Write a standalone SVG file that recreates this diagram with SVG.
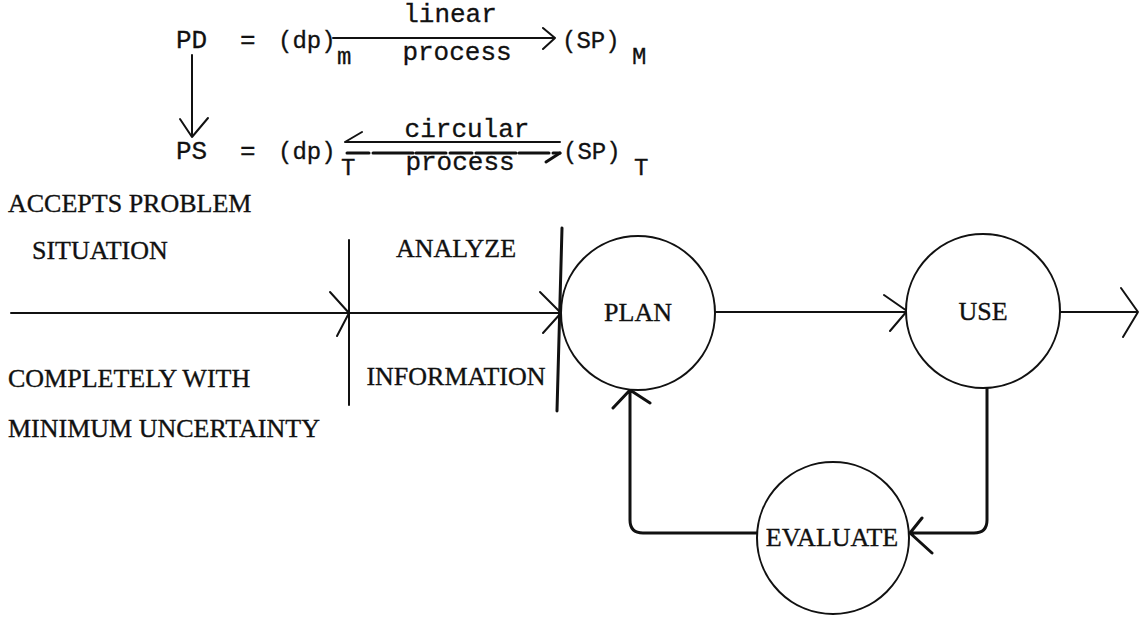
<svg xmlns="http://www.w3.org/2000/svg" width="1139" height="618" viewBox="0 0 1139 618">
<style>
.f{font-family:"Liberation Mono","DejaVu Sans Mono",monospace;fill:#111;stroke:#111;stroke-width:0.3}
.s{font-family:"Liberation Serif","DejaVu Serif",serif;fill:#111;font-size:26px;stroke:#111;stroke-width:0.35}
.ln{stroke:#111;stroke-width:2;fill:none;stroke-linecap:round;stroke-linejoin:round}
.th{stroke:#111;stroke-width:3;fill:none;stroke-linecap:round;stroke-linejoin:round}
.c{stroke:#111;stroke-width:2;fill:#fff}
</style>
<rect width="1139" height="618" fill="#fff"/>
<g id="formula">
  <text class="f" x="176" y="48" font-size="26">PD</text>
  <text class="f" x="240" y="48" font-size="26">=</text>
  <text class="f" x="278" y="48" font-size="24">(dp)</text>
  <text class="f" x="337" y="64" font-size="24">m</text>
  <text class="f" x="450" y="22" font-size="26" text-anchor="middle">linear</text>
  <text class="f" x="457" y="60" font-size="26" text-anchor="middle">process</text>
  <text class="f" x="562" y="48" font-size="24">(SP)</text>
  <text class="f" x="632" y="64" font-size="24">M</text>
  <text class="f" x="176" y="159" font-size="26">PS</text>
  <text class="f" x="240" y="159" font-size="26">=</text>
  <text class="f" x="278" y="159" font-size="24">(dp)</text>
  <text class="f" x="341" y="175" font-size="24">T</text>
  <text class="f" x="467" y="137" font-size="26" text-anchor="middle">circular</text>
  <text class="f" x="460" y="170" font-size="26" text-anchor="middle">process</text>
  <text class="f" x="563" y="159" font-size="24">(SP)</text>
  <text class="f" x="634" y="175" font-size="24">T</text>
</g>
<g id="connectors">
  <path class="ln" d="M333 38H555M543 28L555 38L543 49"/>
  <path class="ln" d="M192 55V137M180 119L192 137L208 118"/>
  <path class="ln" d="M345 142H560M362 132L345 142"/>
  <path class="th" stroke-dasharray="22 4 40 3 30 4" d="M347 153H560"/>
  <path class="th" d="M560 153L546 162"/>
  <path class="ln" d="M11 313H561"/>
  <path class="ln" d="M330 292L349 313L337 336"/>
  <path class="ln" d="M540 292L561 313L543 333"/>
  <path class="ln" d="M349 240V405"/>
  <path class="th" d="M562 228L557 411"/>
  <path class="ln" d="M715 312H907M884 295L907 311L890 331"/>
  <path class="ln" d="M1060 312H1138M1121 288L1138 312L1123 337"/>
  <path class="th" d="M987 388V520Q987 533 974 533H910M922 518L910 533L932 553"/>
  <path class="th" d="M757 533H643Q630 533 630 520V390M613 408L630 390L650 403"/>
</g>
<g id="labels">
  <text class="s" x="8" y="212">ACCEPTS PROBLEM</text>
  <text class="s" x="32" y="259">SITUATION</text>
  <text class="s" x="8" y="387">COMPLETELY WITH</text>
  <text class="s" x="8" y="437">MINIMUM UNCERTAINTY</text>
  <text class="s" x="456" y="257" text-anchor="middle">ANALYZE</text>
  <text class="s" x="456" y="385" text-anchor="middle">INFORMATION</text>
</g>
<g id="plan"><circle class="c" cx="638" cy="313" r="77"/><text class="s" x="638" y="321" text-anchor="middle">PLAN</text></g>
<g id="use"><circle class="c" cx="983" cy="311" r="77"/><text class="s" x="983" y="320" text-anchor="middle">USE</text></g>
<g id="evaluate"><circle class="c" cx="833" cy="538" r="76"/><text class="s" x="832" y="546" text-anchor="middle" font-size="24">EVALUATE</text></g>
</svg>
